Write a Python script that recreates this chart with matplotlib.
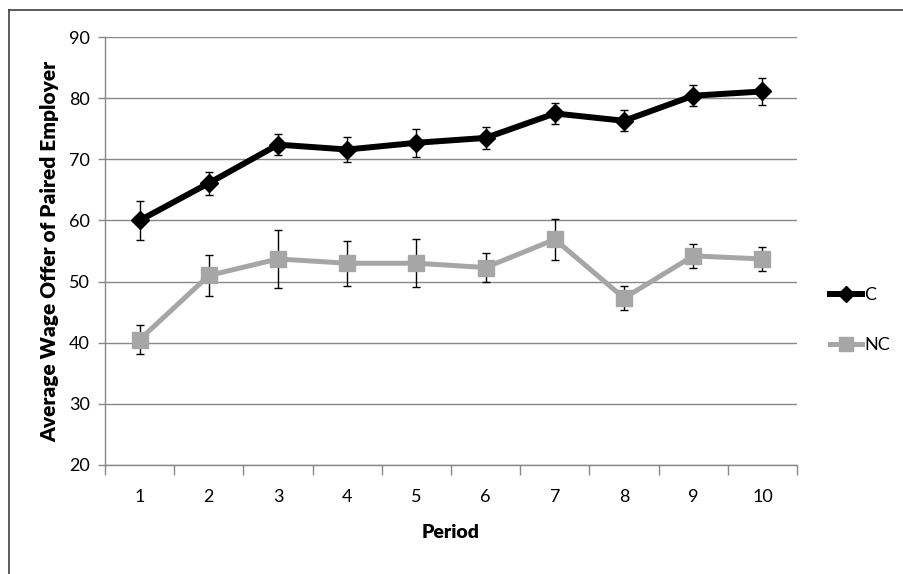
import numpy as np
import matplotlib.pyplot as plt
from matplotlib.lines import Line2D

plt.rcParams['font.family'] = ['Lato', 'DejaVu Sans']

# Данные
periods = [1, 2, 3, 4, 5, 6, 7, 8, 9, 10]
c_mean = [60.0, 66.1, 72.4, 71.6, 72.7, 73.5, 77.5, 76.3, 80.4, 81.1]
c_err = [3.2, 1.9, 1.7, 2.1, 2.3, 1.8, 1.7, 1.7, 1.7, 2.2]
nc_mean = [40.5, 51.0, 53.7, 53.0, 53.0, 52.3, 56.9, 47.3, 54.2, 53.7]
nc_err = [2.4, 3.4, 4.7, 3.7, 3.9, 2.4, 3.3, 1.9, 2.0, 1.9]
y_ticks = [20, 30, 40, 50, 60, 70, 80, 90]

fig = plt.figure(figsize=(9.04, 5.74), dpi=100)
ax = fig.add_axes([0.1162, 0.1899, 0.7655, 0.7456])

grid_col = '#888888'
c_col = 'black'
nc_col = '#a6a6a6'

# Линии с маркерами
ax.plot(periods, c_mean, color=c_col, lw=4.3, marker='D', ms=9.5, zorder=3, label='C')
ax.plot(periods, nc_mean, color=nc_col, lw=3.6, marker='s', ms=11.5, zorder=3, label='NC')

# Погрешности
ax.errorbar(periods, c_mean, yerr=c_err, fmt='none', ecolor='black', elinewidth=1,
            capsize=3, capthick=1, zorder=4)
ax.errorbar(periods, nc_mean, yerr=nc_err, fmt='none', ecolor='black', elinewidth=1,
            capsize=3, capthick=1, zorder=2)

ax.set_xlim(0.5, 10.5)
ax.set_ylim(20, 90)
ax.set_yticks(y_ticks)
ax.set_xticks(periods)
ax.set_xticks(np.arange(0.5, 11, 1), minor=True)
ax.tick_params(axis='x', which='major', length=0, pad=17, labelsize=13)
ax.tick_params(axis='x', which='minor', length=7, color=grid_col, width=1)
ax.tick_params(axis='y', length=5, color=grid_col, width=1, pad=6, labelsize=13)

ax.grid(axis='y', color=grid_col, lw=1)
ax.set_axisbelow(True)
for s in ['top', 'right']:
    ax.spines[s].set_visible(False)
for s in ['left', 'bottom']:
    ax.spines[s].set_color(grid_col)
    ax.spines[s].set_linewidth(1)

ax.set_ylabel('Average Wage Offer of Paired Employer', fontsize=15, fontweight='heavy', labelpad=7)
ax.set_xlabel('Period', fontsize=14, fontweight='heavy', labelpad=14)

# Легенда
handles = [Line2D([], [], color=c_col, lw=4.3, marker='D', ms=8),
           Line2D([], [], color=nc_col, lw=3.6, marker='s', ms=10)]
fig.legend(handles, ['C', 'NC'], loc='center left', bbox_to_anchor=(0.9, 0.442),
           frameon=False, handlelength=1.8, handletextpad=0.1, labelspacing=1.9,
           fontsize=13)

# Рамка (видны только верх и левый край)
fig.add_artist(Line2D([8.5 / 904, 1.0], [1 - 9.5 / 574, 1 - 9.5 / 574], color='#404040', lw=1.2))
fig.add_artist(Line2D([8.5 / 904, 8.5 / 904], [0, 1 - 9.5 / 574], color='#404040', lw=1.2))

fig.savefig('out.png', dpi=100)
